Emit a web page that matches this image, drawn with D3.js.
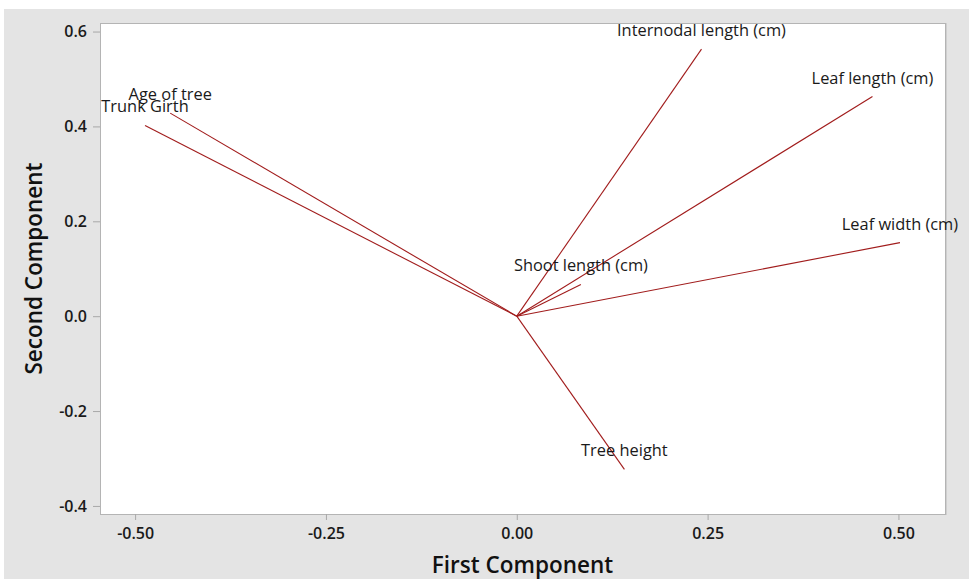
<!DOCTYPE html>
<html>
<head>
<meta charset="utf-8">
<script src="https://cdn.jsdelivr.net/npm/d3@7"></script>
<style>
  html, body { margin: 0; padding: 0; background: #ffffff; }
  svg { display: block; }
  text { font-family: "Open Sans", "Noto Sans", sans-serif; }
</style>
</head>
<body>
<svg id="chart" width="969" height="579"></svg>
<script>
// Loading plot: coefficients of each variable on the first two principal components
const variables = [
  "Internodal length (cm)",
  "Leaf length (cm)",
  "Leaf width (cm)",
  "Shoot length (cm)",
  "Tree height",
  "Age of tree",
  "Trunk Girth"
];
const firstComponent  = [0.242, 0.466, 0.502, 0.084, 0.141, -0.454, -0.487];
const secondComponent = [0.563, 0.463, 0.155, 0.067, -0.323, 0.428, 0.402];

const xTicks = [-0.50, -0.25, 0.00, 0.25, 0.50];
const yTicks = [-0.4, -0.2, 0.0, 0.2, 0.4, 0.6];

const xTitle = "First Component";
const yTitle = "Second Component";

const svg = d3.select("#chart");

const plot = { left: 100, top: 23, right: 945, bottom: 514 };

// outer panel
svg.append("rect")
  .attr("x", 4).attr("y", 9)
  .attr("width", 965).attr("height", 570)
  .attr("fill", "#e4e4e4");

const x = d3.scaleLinear().domain([-0.546, 0.561]).range([plot.left, plot.right]);
const y = d3.scaleLinear().domain([-0.417, 0.618]).range([plot.bottom, plot.top]);

// data region
svg.append("rect")
  .attr("x", plot.left).attr("y", plot.top)
  .attr("width", plot.right - plot.left).attr("height", plot.bottom - plot.top)
  .attr("fill", "#ffffff")
  .attr("stroke", "#b4b4b4")
  .attr("stroke-width", 1)
  .attr("shape-rendering", "crispEdges");
// slight shadow on the right edge
svg.append("line")
  .attr("x1", plot.right + 1.5).attr("x2", plot.right + 1.5)
  .attr("y1", plot.top).attr("y2", plot.bottom + 1)
  .attr("stroke", "#cfcfcf").attr("stroke-width", 1);

// plain hyphen for negative tick values
const fmt = p => d => d3.format(p)(d).replace("\u2212", "-");

// axes
const xAxis = svg.append("g")
  .attr("transform", `translate(0,${plot.bottom})`)
  .call(d3.axisBottom(x).tickValues(xTicks).tickFormat(fmt(".2f")).tickSize(6).tickPadding(8));
const yAxis = svg.append("g")
  .attr("transform", `translate(${plot.left},0)`)
  .call(d3.axisLeft(y).tickValues(yTicks).tickFormat(fmt(".1f")).tickSize(7).tickPadding(6));

[xAxis, yAxis].forEach(g => {
  g.select(".domain").remove();
  g.selectAll(".tick line").attr("stroke", "#a8a8a8");
  g.selectAll(".tick text")
    .attr("fill", "#1a1a1a")
    .style("font-family", "'Open Sans', sans-serif")
    .style("font-size", "16px")
    .style("font-weight", "600");
});

// axis titles
svg.append("text")
  .attr("x", (plot.left + plot.right) / 2)
  .attr("y", 573)
  .attr("text-anchor", "middle")
  .attr("fill", "#111")
  .style("font-size", "22.5px")
  .style("font-weight", "600")
  .text(xTitle);

svg.append("text")
  .attr("transform", `translate(42,${(plot.top + plot.bottom) / 2}) rotate(-90)`)
  .attr("text-anchor", "middle")
  .attr("fill", "#111")
  .style("font-size", "22.5px")
  .style("font-weight", "600")
  .text(yTitle);

// loading vectors
const loadings = variables.map((name, i) => ({ name, pc1: firstComponent[i], pc2: secondComponent[i] }));

svg.append("g")
  .selectAll("line")
  .data(loadings)
  .join("line")
  .attr("x1", x(0)).attr("y1", y(0))
  .attr("x2", d => x(d.pc1)).attr("y2", d => y(d.pc2))
  .attr("stroke", "#a11c1c")
  .attr("stroke-width", 1.1);

svg.append("g")
  .selectAll("text")
  .data(loadings)
  .join("text")
  .attr("x", d => x(d.pc1))
  .attr("y", d => y(d.pc2) - 13)
  .attr("text-anchor", "middle")
  .attr("fill", "#1a1a1a")
  .style("font-size", "16.4px")
  .text(d => d.name);
</script>
</body>
</html>
